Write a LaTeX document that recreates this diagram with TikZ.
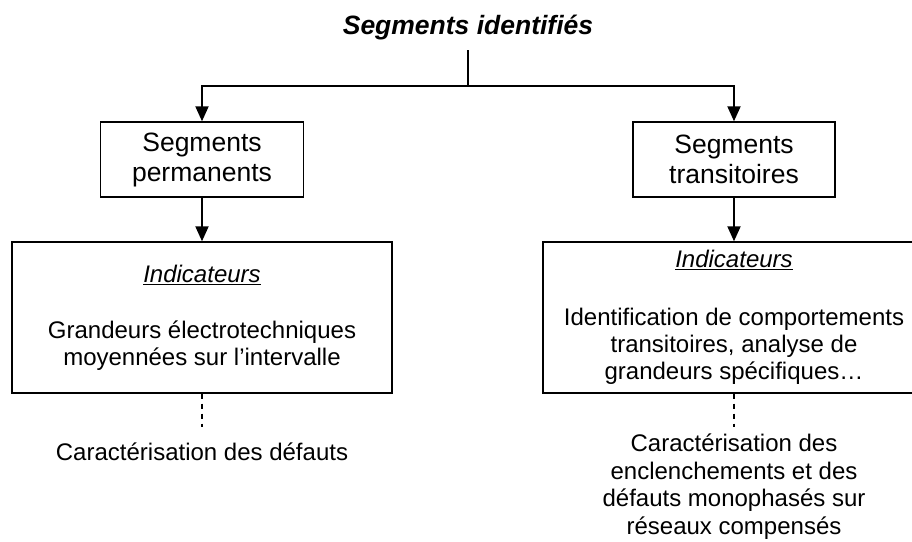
\documentclass[tikz,border=0pt]{standalone}
\usepackage{fontspec}
\setmainfont{Liberation Sans}
\usetikzlibrary{arrows.meta}

\begin{document}
\begin{tikzpicture}[x=1pt,y=-1pt,
  boite/.style={draw, line width=1.4pt, rectangle, align=center, inner sep=0pt,
    font=\fontsize{24}{27}\selectfont},
  texte/.style={align=center, inner sep=0pt, font=\fontsize{24}{27.5}\selectfont},
  fleche/.style={line width=2pt, -{Triangle[length=15pt,width=13pt]}},
  trait/.style={line width=2pt},
  pointille/.style={line width=1.3pt, dash pattern=on 5pt off 5pt}]
  \useasboundingbox (0,0) rectangle (912,541);
  % titre et tige
  \node[font=\fontsize{26.5}{30}\selectfont\bfseries\itshape] (titre) at (468,28) {Segments identifiés};
  \coordinate (tige) at (468,50);
  \coordinate (jonction) at (468,86);
  % segments
  \node[boite, font=\fontsize{26.5}{30}\selectfont, minimum width=203, minimum height=75] (perm) at (202,159.5) {Segments\\permanents};
  \node[boite, font=\fontsize{26.5}{30}\selectfont, minimum width=202, minimum height=75] (trans) at (734,159.5) {Segments\\transitoires};
  % indicateurs
  \node[boite, minimum width=380, minimum height=151] (indperm) at (202,317.5)
    {\underline{\textit{Indicateurs}}\\[29pt]Grandeurs électrotechniques\\moyennées sur l’intervalle};
  \node[boite, minimum width=382, minimum height=151] (indtrans) at (734,317.5)
    {\underline{\textit{Indicateurs}}\\[31pt]Identification de comportements\\transitoires, analyse de\\grandeurs spécifiques…};
  % caracterisations
  \node[texte, anchor=north] (carperm) at (202,443) {Caractérisation des défauts};
  \node[texte, anchor=north] (cartrans) at (734,434) {Caractérisation des\\enclenchements et des\\défauts monophasés sur\\réseaux compensés};
  % liaisons
  \draw[trait] (tige) -- (jonction);
  \draw[fleche] (jonction) -| (perm.north);
  \draw[fleche] (jonction) -| (trans.north);
  \draw[fleche] (perm.south) -- (indperm.north);
  \draw[fleche] (trans.south) -- (indtrans.north);
  \draw[pointille] (indperm.south) -- ([yshift=16pt]carperm.north);
  \draw[pointille] (indtrans.south) -- ([yshift=7pt]cartrans.north);
\end{tikzpicture}
\end{document}
